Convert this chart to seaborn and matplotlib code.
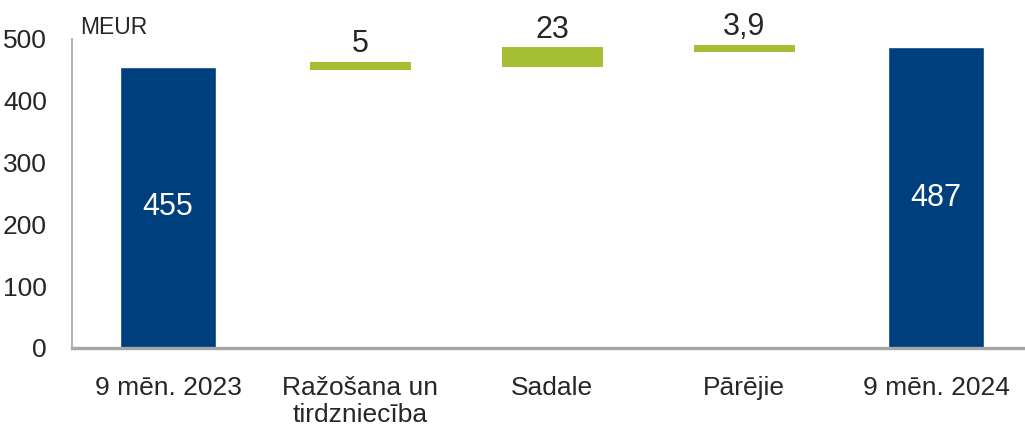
import matplotlib
matplotlib.use("Agg")
import matplotlib.pyplot as plt
import seaborn as sns
import pandas as pd

# data
categories = ["9 mēn. 2023", "Ražošana un\ntirdzniecība", "Sadale", "Pārējie", "9 mēn. 2024"]
totals = [455, None, None, None, 487]
deltas = [None, 5, 23, 3.9, None]
delta_labels = ["5", "23", "3,9"]
yticks = [0, 100, 200, 300, 400, 500]

blue = "#003f7d"
green = "#a5be33"
grey = "#a6a6a6"
txt = "#262626"

sns.set_theme(style="white")
plt.rcParams["font.family"] = ["Liberation Sans", "DejaVu Sans"]

fig = plt.figure(figsize=(10.25, 4.26), dpi=100)
ax = fig.add_axes([0.0702, 0.1831, 0.9366, 0.7254])

df = pd.DataFrame({"cat": categories, "total": totals})
sns.barplot(data=df, x="cat", y="total", order=categories, color=blue,
            width=0.5, saturation=1, ax=ax)

# waterfall steps
running = totals[0]
for i, d in enumerate(deltas):
    if d is None:
        continue
    ax.bar(i, d, bottom=running, width=0.5, color=green,
           edgecolor=green, linewidth=3.6)
    lab = delta_labels[i - 1]
    ax.text(i, running + d + 8, lab, ha="center", va="bottom",
            fontsize=22, color=txt)
    running += d

for i, t in enumerate(totals):
    if t is not None:
        ax.text(i, t / 2, str(t), ha="center", va="center",
                fontsize=22, color="white")

ax.set_xlim(-0.5, 4.5)
ax.set_ylim(0, 500)
ax.set_yticks(yticks)
ax.set_yticklabels([str(v) for v in yticks], fontsize=19, color=txt)
ax.tick_params(axis="x", labelsize=19, colors=txt, length=0, pad=20)
ax.tick_params(axis="y", length=0, pad=18)
for lbl in ax.get_xticklabels():
    lbl.set_linespacing(1.15)
ax.set_xlabel("")
ax.set_ylabel("")

for s in ["top", "right"]:
    ax.spines[s].set_visible(False)
ax.spines["left"].set_color(grey)
ax.spines["left"].set_linewidth(1.2)
ax.spines["bottom"].set_color(grey)
ax.spines["bottom"].set_linewidth(2.4)

ax.text(0.008, 1.0, "MEUR", transform=ax.transAxes, fontsize=16.5,
        color=txt, ha="left", va="bottom")

fig.savefig("out.png", dpi=100)
